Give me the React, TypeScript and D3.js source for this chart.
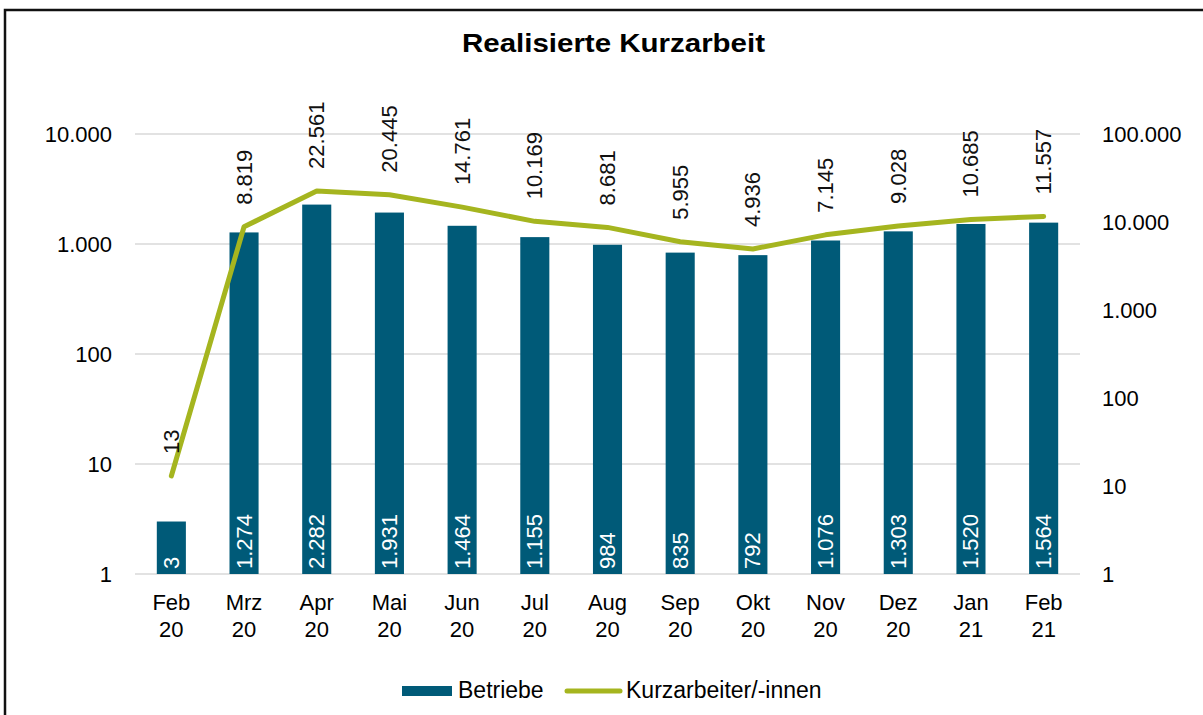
import * as d3 from 'd3';
import React, { useEffect, useRef } from 'react';

// chart data
const months = ['Feb', 'Mrz', 'Apr', 'Mai', 'Jun', 'Jul', 'Aug', 'Sep', 'Okt', 'Nov', 'Dez', 'Jan', 'Feb'];
const years = ['20', '20', '20', '20', '20', '20', '20', '20', '20', '20', '20', '21', '21'];
const betriebe = [3, 1274, 2282, 1931, 1464, 1155, 984, 835, 792, 1076, 1303, 1520, 1564];
const kurzarbeiter = [13, 8819, 22561, 20445, 14761, 10169, 8681, 5955, 4936, 7145, 9028, 10685, 11557];
const leftTicks = [1, 10, 100, 1000, 10000];
const rightTicks = [1, 10, 100, 1000, 10000, 100000];

const BAR = '#005a78';
const LINE = '#a5b51f';
const FONT = '"Liberation Sans", Arial, sans-serif';
const FS = 22;

export default function App() {
  const ref = useRef<SVGSVGElement>(null);

  useEffect(() => {
    if (!ref.current) return;
    const svg = d3.select(ref.current);
    svg.selectAll('*').remove();

    const W = 1203;
    const H = 715;
    const margin = { top: 134, right: 123, bottom: 141, left: 135 };
    const innerW = W - margin.left - margin.right;
    const innerH = H - margin.top - margin.bottom;

    const de = d3.formatLocale({ decimal: ',', thousands: '.', grouping: [3], currency: ['', '€'] });
    const fmt = de.format(',d');

    // frame
    svg
      .append('rect')
      .attr('x', 5)
      .attr('y', 10)
      .attr('width', W + 20)
      .attr('height', H + 20)
      .attr('fill', 'white')
      .attr('stroke', '#111')
      .attr('stroke-width', 2.5);

    svg
      .append('text')
      .attr('x', 462)
      .attr('y', 52)
      .attr('font-family', FONT)
      .attr('font-weight', 'bold')
      .attr('font-size', 25)
      .attr('textLength', 303)
      .attr('lengthAdjust', 'spacingAndGlyphs')
      .text('Realisierte Kurzarbeit');

    const g = svg.append('g').attr('transform', `translate(${margin.left},${margin.top})`);

    const x = d3
      .scaleBand<number>()
      .domain(d3.range(months.length))
      .range([0, innerW])
      .paddingInner(0.6)
      .paddingOuter(0.3);
    const yL = d3.scaleLog().domain([1, 10000]).range([innerH, 0]);
    const yR = d3.scaleLog().domain([1, 100000]).range([innerH, 0]);

    // gridlines
    g.selectAll('line.grid')
      .data(leftTicks)
      .enter()
      .append('line')
      .attr('x1', 0)
      .attr('x2', innerW)
      .attr('y1', d => yL(d))
      .attr('y2', d => yL(d))
      .attr('stroke', '#d9d9d9')
      .attr('stroke-width', 1.5);

    // left axis labels
    g.selectAll('text.yl')
      .data(leftTicks)
      .enter()
      .append('text')
      .attr('x', -23)
      .attr('y', d => yL(d))
      .attr('dy', '0.35em')
      .attr('text-anchor', 'end')
      .attr('font-family', FONT)
      .attr('font-size', FS)
      .text(d => fmt(d));

    // right axis labels
    g.selectAll('text.yr')
      .data(rightTicks)
      .enter()
      .append('text')
      .attr('x', innerW + 22)
      .attr('y', d => yR(d))
      .attr('dy', '0.35em')
      .attr('text-anchor', 'start')
      .attr('font-family', FONT)
      .attr('font-size', FS)
      .text(d => fmt(d));

    // bars
    g.selectAll('rect.bar')
      .data(betriebe)
      .enter()
      .append('rect')
      .attr('x', (_, i) => x(i) as number)
      .attr('y', d => yL(d))
      .attr('width', x.bandwidth())
      .attr('height', d => innerH - yL(d))
      .attr('fill', BAR);

    // bar labels (inside base)
    g.selectAll('text.bl')
      .data(betriebe)
      .enter()
      .append('text')
      .attr('transform', (_, i) => `translate(${(x(i) as number) + x.bandwidth() / 2},${innerH - 5}) rotate(-90)`)
      .attr('dominant-baseline', 'central')
      .attr('text-anchor', 'start')
      .attr('font-family', FONT)
      .attr('font-size', FS)
      .attr('fill', 'white')
      .text(d => fmt(d));

    // line
    const cx = (i: number) => (x(i) as number) + x.bandwidth() / 2;
    g.append('path')
      .datum(kurzarbeiter)
      .attr('fill', 'none')
      .attr('stroke', LINE)
      .attr('stroke-width', 5)
      .attr('stroke-linecap', 'round')
      .attr('stroke-linejoin', 'round')
      .attr(
        'd',
        d3
          .line<number>()
          .x((_, i) => cx(i))
          .y(d => yR(d))
      );

    // line labels
    g.selectAll('text.ll')
      .data(kurzarbeiter)
      .enter()
      .append('text')
      .attr('transform', (d, i) => `translate(${cx(i)},${yR(d) - 22}) rotate(-90)`)
      .attr('dominant-baseline', 'central')
      .attr('text-anchor', 'start')
      .attr('font-family', FONT)
      .attr('font-size', FS)
      .attr('fill', '#111')
      .text(d => fmt(d));

    // category labels
    const cat = g
      .selectAll('text.cat')
      .data(months)
      .enter()
      .append('text')
      .attr('text-anchor', 'middle')
      .attr('font-family', FONT)
      .attr('font-size', FS);
    cat
      .append('tspan')
      .attr('x', (_, i) => cx(i))
      .attr('y', innerH + 36)
      .text(d => d);
    cat
      .append('tspan')
      .attr('x', (_, i) => cx(i))
      .attr('y', innerH + 63)
      .text((_, i) => years[i]);

    // legend
    const lg = svg.append('g');
    lg.append('rect').attr('x', 402).attr('y', 686).attr('width', 50).attr('height', 10).attr('fill', BAR);
    lg.append('text')
      .attr('x', 458)
      .attr('y', 698)
      .attr('font-family', FONT)
      .attr('font-size', 23)
      .text('Betriebe');
    lg.append('line')
      .attr('x1', 567)
      .attr('x2', 620)
      .attr('y1', 691)
      .attr('y2', 691)
      .attr('stroke', LINE)
      .attr('stroke-width', 5)
      .attr('stroke-linecap', 'round');
    lg.append('text')
      .attr('x', 626)
      .attr('y', 698)
      .attr('font-family', FONT)
      .attr('font-size', 23)
      .text('Kurzarbeiter/-innen');
  }, []);

  return (
    <svg
      ref={ref}
      width={1203}
      height={715}
      style={{ position: 'absolute', left: 0, top: 0, display: 'block' }}
    />
  );
}
